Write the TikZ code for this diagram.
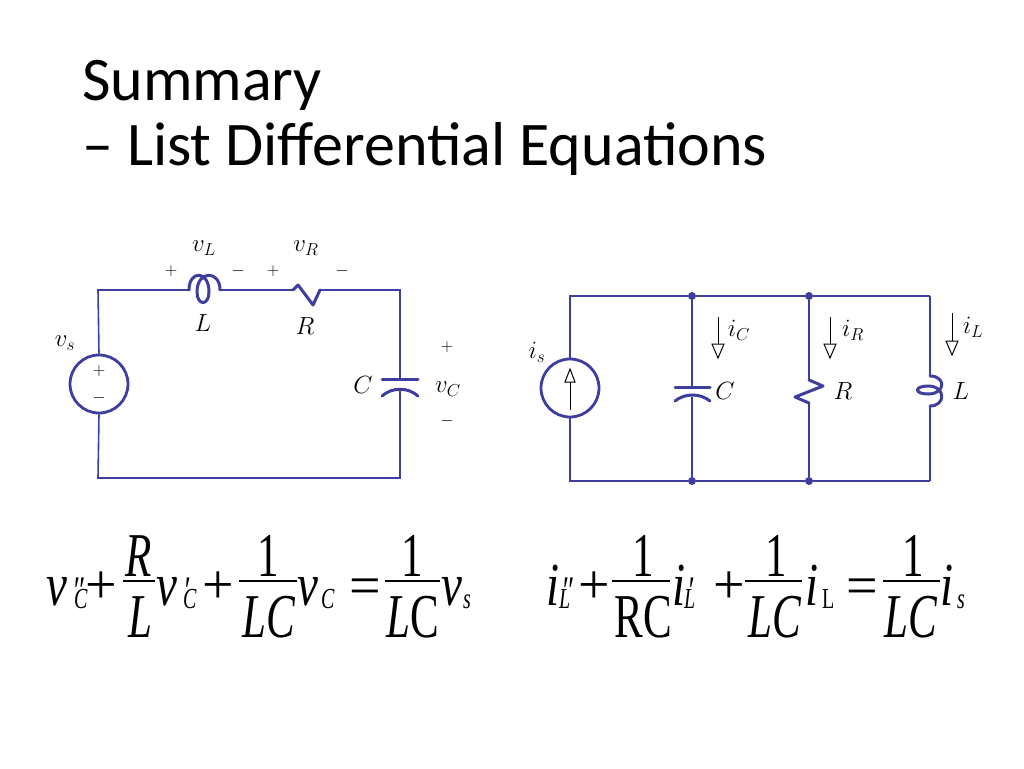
\documentclass[tikz,border=0pt]{standalone}
\usepackage{fontspec}
\usepackage{graphicx}
\IfFontExistsTF{LiberationSerif-Regular.ttf}
 {\setmainfont{LiberationSerif}[Extension=.ttf, UprightFont=*-Regular, ItalicFont=*-Italic, BoldFont=*-Bold, BoldItalicFont=*-BoldItalic]}
 {\setmainfont{Liberation Serif}}
\newfontfamily\titlefont{Carlito}
\definecolor{wirec}{RGB}{62,62,158}
\newcommand\sy[1]{\scalebox{1}[1.45]{#1}}
\newcommand\sv[1]{\scalebox{1}[1.3]{#1}}
\tikzset{
  wire/.style={draw=wirec, line width=1.6pt, line join=miter},
  comp/.style={draw=wirec, line width=3pt, line cap=round, line join=round},
  src/.style={circle, draw=wirec, line width=2.8pt, minimum size=58pt, inner sep=0pt},
  dotnode/.style={circle, fill=wirec, minimum size=8pt, inner sep=0pt},
  lbl/.style={font=\fontsize{24}{28}\selectfont, inner sep=0pt},
  sgn/.style={font=\fontsize{18}{20}\selectfont, inner sep=0pt},
  carrow/.style={draw=black, line width=1pt},
  title/.style={font=\titlefont\fontsize{62}{70}\selectfont, anchor=base west, inner sep=0pt},
  eqm/.style={font=\fontsize{47}{47}\selectfont\itshape, inner sep=0pt, anchor=base west},
  eqsub/.style={font=\fontsize{20}{20}\selectfont\itshape, inner sep=0pt, anchor=base west},
  eqpr/.style={font=\fontsize{28}{28}\selectfont\itshape, inner sep=0pt, anchor=base west},
  eqop/.style={font=\fontsize{56}{56}\selectfont, inner sep=0pt, anchor=base},
  eqfr/.style={font=\fontsize{43}{43}\selectfont, inner sep=0pt, anchor=base},
  fracbar/.style={draw=black, line width=2pt}
}
\begin{document}
\begin{tikzpicture}[x=1pt,y=-1pt]
\useasboundingbox (0,0) rectangle (1024,768);
% title
\node[title] (t1) at (82,100) {Summary};
\node[title] (t2) at (82,165) {– List Differential Equations};

% ===== left series circuit =====
\node[src] (vs) at (99,384) {};
\node[sgn] (vsp) at (99,371) {$+$};
\node[sgn] (vsm) at (99,398) {$-$};
\coordinate (TL) at (98,290);
\coordinate (TR) at (400,290);
\coordinate (BR) at (400,478);
\coordinate (BL) at (98,478);
\coordinate (La) at (189,290);
\coordinate (Lb) at (220,290);
\coordinate (Ra) at (293,290);
\coordinate (Rb) at (320,290);
\coordinate (Ca) at (400,379);
\coordinate (Cb) at (400,390);
\draw[wire] (vs.north) -- (TL) -- (La);
\draw[comp] (La) .. controls (189,270) and (209,270) .. (209,292)
   .. controls (209,306) and (197,306) .. (197,292)
   .. controls (197,270) and (220,270) .. (Lb);
\draw[wire] (Lb) -- (Ra);
\draw[comp] (Ra) -- (298,285) -- (313,305) -- (Rb);
\draw[wire] (Rb) -- (TR) -- (Ca);
\draw[comp] (382,379) -- (418,379);
\draw[comp] (382,396) .. controls (392,387) and (408,387) .. (418,396);
\draw[wire] (Cb) -- (BR) -- (BL) -- (vs.south);

\node[lbl] (lvL) at (204,248) {$v_L$};
\node[lbl] (lvR) at (306,248) {$v_R$};
\node[lbl] (lL) at (203,323) {$L$};
\node[lbl] (lR) at (305,326) {$R$};
\node[lbl] (lvs) at (65,343) {$v_s$};
\node[lbl] (lC) at (363,385) {$C$};
\node[lbl] (lvC) at (448,389) {$v_C$};
\node[sgn] (p1) at (171,271) {$+$};
\node[sgn] (m1) at (238,271) {$-$};
\node[sgn] (p2) at (273,271) {$+$};
\node[sgn] (m2) at (342,271) {$-$};
\node[sgn] (p3) at (447,347) {$+$};
\node[sgn] (m3) at (447,421) {$-$};

% ===== right parallel circuit =====
\node[src] (is) at (570,388) {};
\coordinate (aT) at (570,296);
\coordinate (aB) at (570,481);
\node[dotnode] (d1) at (692,296) {};
\node[dotnode] (d2) at (809,296) {};
\node[dotnode] (d3) at (692,481) {};
\node[dotnode] (d4) at (809,481) {};
\coordinate (eT) at (930,296);
\coordinate (eB) at (930,481);
\draw[wire] (is.north) -- (aT) -- (d1) -- (d2) -- (eT);
\draw[wire] (is.south) -- (aB) -- (d3) -- (d4) -- (eB);
% capacitor branch
\coordinate (c2a) at (692,387);
\coordinate (c2b) at (692,397);
\draw[wire] (d1) -- (c2a);
\draw[comp] (675,387) -- (710,387);
\draw[comp] (675,401) .. controls (685,393) and (700,393) .. (710,401);
\draw[wire] (c2b) -- (d3);
% resistor branch
\coordinate (r2a) at (809,380);
\coordinate (r2b) at (809,403);
\draw[wire] (d2) -- (r2a);
\draw[comp] (r2a) -- (823,386) -- (795,397) -- (r2b);
\draw[wire] (r2b) -- (d4);
% inductor branch
\coordinate (l2a) at (930,376);
\coordinate (l2b) at (930,406);
\draw[wire] (eT) -- (l2a);
\draw[comp] (l2a) .. controls (946,376) and (946,394) .. (928,394)
   .. controls (914,394) and (914,386) .. (928,386)
   .. controls (946,386) and (946,406) .. (l2b);
\draw[wire] (l2b) -- (eB);
% source arrow
\coordinate (sa1) at (570,410);
\coordinate (sa2) at (570,382);
\draw[carrow] (sa1) -- (sa2);
\draw[carrow, line join=miter] (565,382) -- (575,382) -- (570,369) -- cycle;
% current arrows
\coordinate (ic1) at (718,317);
\coordinate (ic2) at (718,344);
\draw[carrow] (ic1) -- (ic2);
\draw[carrow, line join=miter] (712,344) -- (724,344) -- (718,358) -- cycle;
\coordinate (ir1) at (830,317);
\coordinate (ir2) at (830,344);
\draw[carrow] (ir1) -- (ir2);
\draw[carrow, line join=miter] (824,344) -- (836,344) -- (830,358) -- cycle;
\coordinate (il1) at (952,313);
\coordinate (il2) at (952,341);
\draw[carrow] (il1) -- (il2);
\draw[carrow, line join=miter] (946,341) -- (958,341) -- (952,355) -- cycle;

\node[lbl] (lis) at (537,352) {$i_s$};
\node[lbl] (liC) at (739,330) {$i_C$};
\node[lbl] (liR) at (853,330) {$i_R$};
\node[lbl] (liL) at (973,327) {$i_L$};
\node[lbl] (lC2) at (725,391) {$C$};
\node[lbl] (lR2) at (843,391) {$R$};
\node[lbl] (lL2) at (961,391) {$L$};

% ===== left equation =====
\node[eqm] (a1) at (46,605) {\sv{v}};
\node[eqpr] (a1p) at (72,604) {\sy{″}};
\node[eqsub] (a1s) at (74,608) {\sy{C}};
\node[eqop] (a2) at (101,603) {+};
\coordinate (a3l) at (123,581); \coordinate (a3r) at (155,581);
\draw[fracbar] (a3l) -- (a3r);
\node[eqfr] (a3n) at (139,576) {\sy{\itshape R}};
\node[eqfr] (a3d) at (140,637) {\sy{\itshape L}};
\node[eqm] (a4) at (156,605) {\sv{v}};
\node[eqpr] (a4p) at (183,604) {\sy{′}};
\node[eqsub] (a4s) at (183,608) {\sy{C}};
\node[eqop] (a5) at (218,603) {+};
\coordinate (a6l) at (239,581); \coordinate (a6r) at (297,581);
\draw[fracbar] (a6l) -- (a6r);
\node[eqfr] (a6n) at (268,576) {\sy{1}};
\node[eqfr] (a6d) at (269,637) {\sy{\itshape LC}};
\node[eqm] (a7) at (297,605) {\sv{v}};
\node[eqsub] (a7s) at (321,608) {\sy{C}};
\node[eqop] (a8) at (365,604) {=};
\coordinate (a9l) at (385,581); \coordinate (a9r) at (440,581);
\draw[fracbar] (a9l) -- (a9r);
\node[eqfr] (a9n) at (412,576) {\sy{1}};
\node[eqfr] (a9d) at (413,637) {\sy{{\itshape L}C}};
\node[eqm] (a10) at (441,605) {\sv{v}};
\node[eqsub] (a10s) at (463,608) {\sy{s}};

% ===== right equation =====
\node[eqm] (b1) at (546,605) {\sv{i}};
\node[eqpr] (b1p) at (561,604) {\sy{″}};
\node[eqsub] (b1s) at (559,608) {\sy{L}};
\node[eqop] (b2) at (594,603) {+};
\coordinate (b3l) at (612,581); \coordinate (b3r) at (670,581);
\draw[fracbar] (b3l) -- (b3r);
\node[eqfr] (b3n) at (643,576) {\sy{1}};
\node[eqfr] (b3d) at (643,637) {\sy{RC}};
\node[eqm] (b4) at (672,605) {\sv{i}};
\node[eqpr] (b4p) at (687,604) {\sy{′}};
\node[eqsub] (b4s) at (684,608) {\sy{L}};
\node[eqop] (b5) at (729,603) {+};
\coordinate (b6l) at (745,581); \coordinate (b6r) at (802,581);
\draw[fracbar] (b6l) -- (b6r);
\node[eqfr] (b6n) at (776,576) {\sy{1}};
\node[eqfr] (b6d) at (775,637) {\sy{\itshape LC}};
\node[eqm] (b7) at (805,605) {\sv{i}};
\node[eqsub] (b7s) at (822,608) {\sy{\upshape L}};
\node[eqop] (b8) at (862,604) {=};
\coordinate (b9l) at (883,581); \coordinate (b9r) at (940,581);
\draw[fracbar] (b9l) -- (b9r);
\node[eqfr] (b9n) at (913,576) {\sy{1}};
\node[eqfr] (b9d) at (911,637) {\sy{\itshape LC}};
\node[eqm] (b10) at (940,605) {\sv{i}};
\node[eqsub] (b10s) at (957,608) {\sy{s}};
\end{tikzpicture}
\end{document}
